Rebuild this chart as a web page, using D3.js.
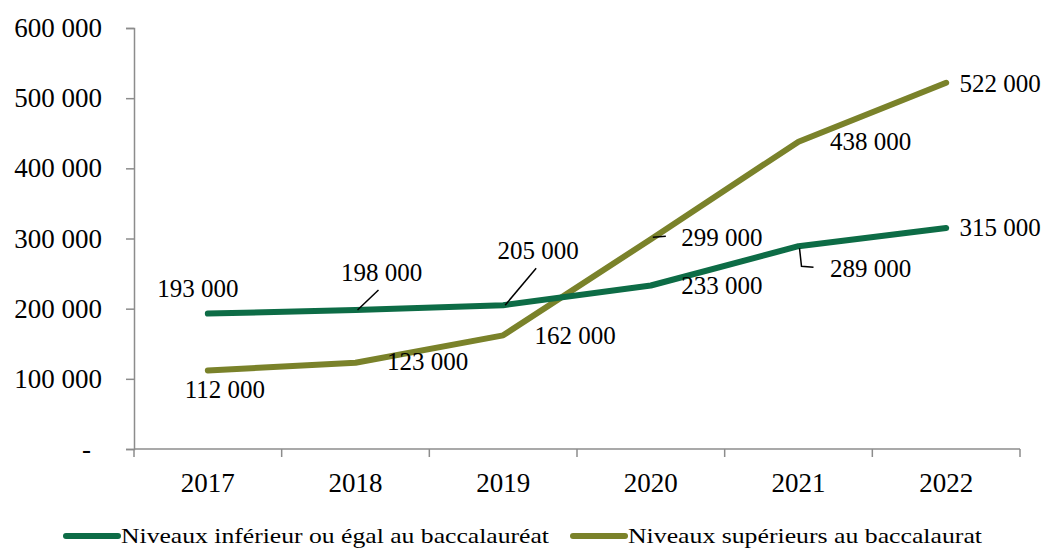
<!DOCTYPE html>
<html>
<head>
<meta charset="utf-8">
<script src="https://cdn.jsdelivr.net/npm/d3@7"></script>
<style>
body { margin: 0; background: #fff; }
svg { font-family: "Liberation Serif", serif; }
</style>
</head>
<body>
<script>
var years = ["2017", "2018", "2019", "2020", "2021", "2022"];
var inferieur = [193000, 198000, 205000, 233000, 289000, 315000];
var superieur = [112000, 123000, 162000, 299000, 438000, 522000];
var y_ticks = [0, 100000, 200000, 300000, 400000, 500000, 600000];
var series_names = ["Niveaux inférieur ou égal au baccalauréat", "Niveaux supérieurs au baccalaurat"];

var color_inf = "#0d6c46";
var color_sup = "#7a822a";
var axis_color = "#8c8c8c";

// label offsets from the point (dx, dy), in pixels
var off_inf = [[-10, -25], [26, -38], [35, -55], [71, 0], [72, 22], [54, 0]];
var off_sup = [[17, 19], [72, -1], [72, 0], [71, -2], [72, 0], [54, 1]];

var width = 1045, height = 548;
var plot_left = 134, plot_right = 1020, plot_top = 28, plot_bottom = 449;

var svg = d3.select("body").append("svg")
	.attr("width", width)
	.attr("height", height);

var x = d3.scaleBand().domain(years).range([plot_left, plot_right]);
var y = d3.scaleLinear().domain([0, 600000]).range([plot_bottom, plot_top]);

function fmt(v) {
	if (v == 0) return "-";
	return d3.format(",")(v).replace(/,/g, " ");
}

// y axis
var yAxis = svg.append("g")
	.attr("transform", "translate(" + plot_left + ",0)")
	.call(d3.axisLeft(y).tickValues(y_ticks).tickSize(8).tickPadding(24).tickFormat(fmt));
yAxis.selectAll("text")
	.attr("font-size", "27px")
	.attr("fill", "#000")
	.attr("font-family", "Liberation Serif")
	.attr("dx", function(d) { return d == 0 ? -11 : 0 });
yAxis.select(".domain").attr("stroke", axis_color).attr("stroke-width", 1.5);
yAxis.selectAll(".tick line").attr("stroke", axis_color).attr("stroke-width", 1.5);

// x axis, ticks between categories
var xAxis = svg.append("g")
	.attr("transform", "translate(0," + plot_bottom + ")");
xAxis.append("line")
	.attr("x1", plot_left).attr("x2", plot_right)
	.attr("stroke", axis_color).attr("stroke-width", 1.5);
var bounds = years.map(function(d) { return x(d) }).concat([x(years[years.length - 1]) + x.bandwidth()]);
xAxis.selectAll(".xtick")
	.data(bounds)
	.enter()
	.append("line")
	.attr("class", "xtick")
	.attr("x1", function(d) { return d }).attr("x2", function(d) { return d })
	.attr("y1", 0).attr("y2", 8)
	.attr("stroke", axis_color).attr("stroke-width", 1.5);
xAxis.selectAll(".xlabel")
	.data(years)
	.enter()
	.append("text")
	.attr("class", "xlabel")
	.attr("text-anchor", "middle")
	.attr("x", function(d) { return x(d) + x.bandwidth() / 2 })
	.attr("y", 43)
	.attr("font-size", "27px")
	.text(function(d) { return d });

var line = d3.line()
	.x(function(d, i) { return x(years[i]) + x.bandwidth() / 2 })
	.y(function(d) { return y(d) });

function draw_series(values, color, offsets) {
	svg.append("path")
		.datum(values)
		.attr("d", line)
		.attr("fill", "none")
		.attr("stroke", color)
		.attr("stroke-width", 6)
		.attr("stroke-linecap", "round")
		.attr("stroke-linejoin", "round");
	svg.selectAll(null)
		.data(values)
		.enter()
		.append("text")
		.attr("text-anchor", "middle")
		.attr("dominant-baseline", "central")
		.attr("font-size", "25px")
		.attr("x", function(d, i) { return x(years[i]) + x.bandwidth() / 2 + offsets[i][0] })
		.attr("y", function(d, i) { return y(d) + offsets[i][1] })
		.text(fmt);
}

draw_series(superieur, color_sup, off_sup);
draw_series(inferieur, color_inf, off_inf);

// leader lines (relative to the point)
function px(i) { return x(years[i]) + x.bandwidth() / 2 }
var leaders = [
	[[px(1) + 2, y(inferieur[1])], [px(1) + 23, y(inferieur[1]) - 20]],
	[[px(2) + 2, y(inferieur[2])], [px(2) + 33, y(inferieur[2]) - 37]],
	[[px(3) + 2, y(superieur[3]) - 2], [px(3) + 15, y(superieur[3]) - 3]],
	[[px(4) + 1, y(inferieur[4]) + 2], [px(4) + 3, y(inferieur[4]) + 20], [px(4) + 15, y(inferieur[4]) + 21]]
];
svg.selectAll(".leader")
	.data(leaders)
	.enter()
	.append("path")
	.attr("class", "leader")
	.attr("d", d3.line())
	.attr("fill", "none")
	.attr("stroke", "#000")
	.attr("stroke-width", 1.5);

// legend
var legend = [
	{ name: series_names[0], color: color_inf, x: 64, len: 428 },
	{ name: series_names[1], color: color_sup, x: 571, len: 354 }
];
var lg = svg.selectAll(".legend")
	.data(legend)
	.enter()
	.append("g")
	.attr("class", "legend")
	.attr("transform", function(d) { return "translate(" + d.x + ",536)" });
lg.append("line")
	.attr("x1", 2).attr("x2", 54)
	.attr("stroke", function(d) { return d.color })
	.attr("stroke-width", 6)
	.attr("stroke-linecap", "round");
lg.append("text")
	.attr("x", 57)
	.attr("y", 7)
	.attr("font-size", "22px")
	.attr("textLength", function(d) { return d.len })
	.attr("lengthAdjust", "spacingAndGlyphs")
	.text(function(d) { return d.name });
</script>
</body>
</html>
